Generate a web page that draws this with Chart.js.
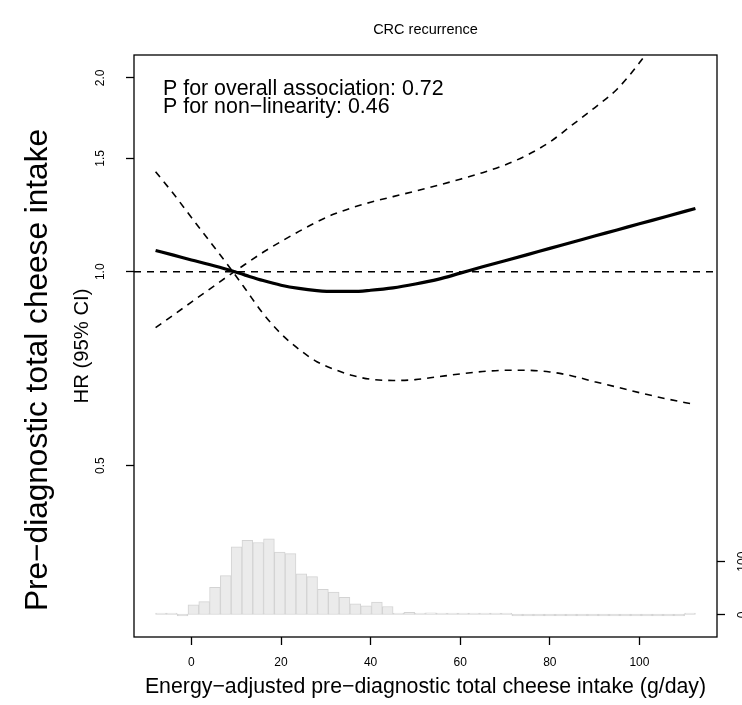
<!DOCTYPE html>
<html>
<head>
<meta charset="utf-8">
<script src="https://cdn.jsdelivr.net/npm/chart.js@4.4.1/dist/chart.umd.min.js"></script>
<style>
  html, body { margin: 0; padding: 0; background: #fff; }
</style>
</head>
<body>
<canvas id="spline-chart" width="742" height="705"></canvas>
<script>
const intake = [-8, -4, 0, 4, 8, 12, 16, 20, 24, 28, 32, 36, 40, 45, 50, 55, 60, 65, 70, 75, 80, 85, 90, 95, 100, 106, 112.5];
const hrFit = [1.079, 1.061, 1.043, 1.026, 1.008, 0.988, 0.969, 0.953, 0.942, 0.935, 0.932, 0.932, 0.936, 0.944, 0.957, 0.973, 0.995, 1.018, 1.040, 1.063, 1.087, 1.111, 1.136, 1.161, 1.187, 1.218, 1.254];
const hrUpper = [0.819, 0.857, 0.897, 0.939, 0.983, 1.027, 1.072, 1.114, 1.155, 1.195, 1.230, 1.258, 1.282, 1.308, 1.334, 1.362, 1.392, 1.425, 1.465, 1.518, 1.590, 1.690, 1.797, 1.920, 2.110, 2.410, 2.770];
const hrLower = [1.430, 1.321, 1.214, 1.117, 1.027, 0.941, 0.861, 0.801, 0.758, 0.725, 0.705, 0.690, 0.681, 0.678, 0.680, 0.687, 0.694, 0.700, 0.703, 0.703, 0.699, 0.689, 0.675, 0.662, 0.649, 0.635, 0.622];

// histogram of intake: 50 bins from -8 g/day
const binStart = -8;
const binWidth = 2.41;
const binCounts = [1, 3, 0, 19, 25, 52, 74, 128, 140, 136, 143, 118, 115, 77, 72, 48, 43, 33, 21, 17,
  24, 16, 2, 5, 2, 4, 1, 3, 3, 1, 1, 2, 2, 0, 0, 0, 0, 0, 0, 0,
  0, 0, 0, 0, 0, 0, 0, 0, 0, 2];

const xTicks = [0, 20, 40, 60, 80, 100];
const hrTicks = [0.5, 1.0, 1.5, 2.0];
const countTicks = [0, 100];
const xMin = -12.82, xMax = 117.32;
const refHR = [1, 1];

const pText = ['P for overall association: 0.72', 'P for non\u2212linearity: 0.46'];
const outerLabel = 'Pre\u2212diagnostic total cheese intake';

const FONT = '"Liberation Sans", Arial, Helvetica, sans-serif';

const toPoints = (ys) => intake.map((x, i) => ({ x: x, y: ys[i] }));
const binMids = binCounts.map((c, i) => binStart + binWidth * (i + 0.5));

// box + outer texts drawn on top of the chart
const extras = {
  id: 'extras',
  afterDraw(chart) {
    const { ctx, chartArea } = chart;
    ctx.save();
    ctx.strokeStyle = '#000';
    ctx.lineWidth = 1.3;
    ctx.strokeRect(chartArea.left, chartArea.top, chartArea.right - chartArea.left, chartArea.bottom - chartArea.top);

    ctx.fillStyle = '#000';
    ctx.font = '21.4px ' + FONT;
    ctx.textAlign = 'left';
    ctx.textBaseline = 'alphabetic';
    ctx.fillText(pText[0], chartArea.left + 29, 95);
    ctx.fillText(pText[1], chartArea.left + 29, 113);

    ctx.translate(47, 370);
    ctx.rotate(-Math.PI / 2);
    ctx.font = '31.6px ' + FONT;
    ctx.textAlign = 'center';
    ctx.fillText(outerLabel, 0, 0);
    ctx.restore();
  }
};

const tickGrid = { drawOnChartArea: false, drawTicks: true, offset: false, tickLength: 8, tickColor: '#000', tickWidth: 1.3 };

new Chart(document.getElementById('spline-chart'), {
  type: 'line',
  data: {
    datasets: [
      {
        data: toPoints(hrFit),
        borderColor: '#000', borderWidth: 3.2, pointRadius: 0,
        cubicInterpolationMode: 'monotone', yAxisID: 'y', order: 1
      },
      {
        data: toPoints(hrUpper),
        borderColor: '#000', borderWidth: 1.6, borderDash: [7, 6], pointRadius: 0,
        cubicInterpolationMode: 'monotone', yAxisID: 'y', order: 2
      },
      {
        data: toPoints(hrLower),
        borderColor: '#000', borderWidth: 1.6, borderDash: [7, 6], pointRadius: 0,
        cubicInterpolationMode: 'monotone', yAxisID: 'y', order: 3
      },
      {
        data: [{ x: xMin, y: refHR[0] }, { x: xMax, y: refHR[1] }],
        borderColor: '#000', borderWidth: 1.6, borderDash: [7, 6], pointRadius: 0,
        yAxisID: 'y', order: 4
      },
      {
        type: 'bar',
        data: binMids.map((x, i) => ({ x: x, y: binCounts[i] })),
        backgroundColor: '#ebebeb', borderColor: '#d3d3d3', borderWidth: 1,
        borderSkipped: false, barPercentage: 1, categoryPercentage: 1, minBarLength: 2,
        yAxisID: 'y2', order: 5
      }
    ]
  },
  options: {
    responsive: false,
    devicePixelRatio: 1,
    animation: false,
    layout: { padding: { left: 56, right: 0, top: 0, bottom: 0 } },
    plugins: {
      legend: { display: false },
      tooltip: { enabled: false },
      title: {
        display: true, text: 'CRC recurrence', fullSize: false, color: '#000',
        font: { family: FONT, size: 14.5, weight: 'normal' },
        padding: { top: 21.5, bottom: 16.1 }
      }
    },
    scales: {
      x: {
        type: 'linear', position: 'bottom', min: xMin, max: xMax, offset: false,
        afterBuildTicks: (s) => { s.ticks = xTicks.map(v => ({ value: v })); },
        afterFit: (s) => { s.height = 68; },
        grid: tickGrid,
        border: { display: false },
        ticks: { color: '#000', font: { family: FONT, size: 12 }, padding: 10, maxRotation: 0 },
        title: {
          display: true, text: 'Energy\u2212adjusted pre\u2212diagnostic total cheese intake (g/day)',
          color: '#000', font: { family: FONT, size: 21.3 }, padding: { top: 0, bottom: 5 }
        }
      },
      y: {
        type: 'logarithmic', position: 'left', min: 0.271, max: 2.17,
        afterBuildTicks: (s) => { s.ticks = hrTicks.map(v => ({ value: v })); },
        afterFit: (s) => { s.width = 78; },
        grid: tickGrid,
        border: { display: false },
        ticks: {
          color: '#000', font: { family: FONT, size: 12 }, minRotation: 90, maxRotation: 90,
          crossAlign: 'center', padding: 17, callback: (v) => Number(v).toFixed(1)
        },
        title: {
          display: true, text: 'HR (95% CI)', color: '#000',
          font: { family: FONT, size: 20.3 }, padding: { top: 14, bottom: 0 }
        }
      },
      y2: {
        type: 'linear', position: 'right', min: -41.3, max: 1050.7,
        afterBuildTicks: (s) => { s.ticks = countTicks.map(v => ({ value: v })); },
        afterFit: (s) => { s.width = 25; },
        grid: tickGrid,
        border: { display: false },
        ticks: {
          color: '#000', font: { family: FONT, size: 12 }, minRotation: 90, maxRotation: 90,
          crossAlign: 'center', padding: 8
        }
      }
    }
  },
  plugins: [extras]
});
</script>
</body>
</html>
